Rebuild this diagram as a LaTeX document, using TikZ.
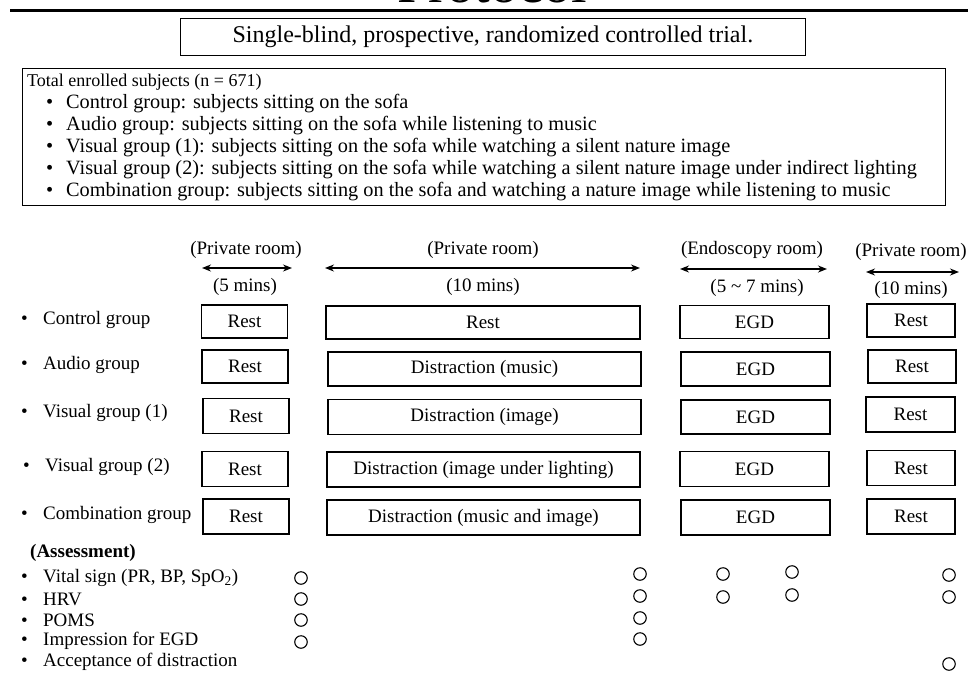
\documentclass[tikz,border=0pt]{standalone}
\usepackage{fontspec}
\setmainfont{Liberation Serif}
\usetikzlibrary{arrows.meta}
\begin{document}
\begin{tikzpicture}[x=1pt,y=-1pt,
  txt/.style={inner sep=0pt, font=\fontsize{19}{22}\selectfont},
  lefttxt/.style={txt, anchor=west},
  stagebox/.style={draw, line width=1.8pt, inner sep=0pt, font=\fontsize{19}{22}\selectfont},
  span/.style={{Stealth[length=9pt,width=7pt]}-{Stealth[length=9pt,width=7pt]}, line width=1.4pt},
  chk/.style={draw, circle, minimum size=12.5pt, inner sep=0pt, line width=1.1pt},
  frame/.style={draw, line width=0.8pt, inner sep=0pt, anchor=north west}
]
\useasboundingbox (0,0) rectangle (968,680);

% title (cut off at the top)
\node[inner sep=0pt, anchor=base, font=\fontsize{56}{60}\selectfont] (title) at (492,2) {Protocol};
\coordinate (ruleL) at (10,10.5);
\coordinate (ruleR) at (968,10.5);
\draw[line width=3.4pt] (ruleL) -- (ruleR);

% design box
\node[frame, minimum width=625pt, minimum height=37pt] (design) at (180,18) {};
\node[txt, font=\fontsize{24}{28}\selectfont] (designtxt) at ([yshift=0.5pt]design.center) {Single-blind, prospective, randomized controlled trial.};

% enrolled box
\node[frame, minimum width=923pt, minimum height=137pt] (enrol) at (22,68) {};
\node[txt, anchor=north west, align=left, font=\fontsize{20.3}{22}\selectfont] (enroltxt) at (27,73.5) {%
{\fontsize{18}{22}\selectfont Total enrolled subjects (n = 671)}\\
\hspace{19pt}\makebox[20pt][l]{\textbullet}Control group: subjects sitting on the sofa\\
\hspace{19pt}\makebox[20pt][l]{\textbullet}Audio group: subjects sitting on the sofa while listening to music\\
\hspace{19pt}\makebox[20pt][l]{\textbullet}Visual group (1): subjects sitting on the sofa while watching a silent nature image\\
\hspace{19pt}\makebox[20pt][l]{\textbullet}Visual group (2): subjects sitting on the sofa while watching a silent nature image under indirect lighting\\
\hspace{19pt}\makebox[20pt][l]{\textbullet}Combination group: subjects sitting on the sofa and watching a nature image while listening to music};

% column headers
\node[txt] (h1) at (246,250) {(Private room)};
\coordinate (a1l) at (202,268); \coordinate (a1r) at (292,268);
\draw[span] (a1l) -- (a1r);
\node[txt] (d1) at (245,287) {(5 mins)};

\node[txt] (h2) at (483,250) {(Private room)};
\coordinate (a2l) at (325,268); \coordinate (a2r) at (640,268);
\draw[span] (a2l) -- (a2r);
\node[txt] (d2) at (483,287) {(10 mins)};

\node[txt] (h3) at (752,250) {(Endoscopy room)};
\coordinate (a3l) at (680,269); \coordinate (a3r) at (827,269);
\draw[span] (a3l) -- (a3r);
\node[txt] (d3) at (757,288) {(5 \textasciitilde\ 7 mins)};

\node[txt] (h4) at (911,252) {(Private room)};
\coordinate (a4l) at (866,272); \coordinate (a4r) at (959,272);
\draw[span] (a4l) -- (a4r);
\node[txt] (d4) at (911,290) {(10 mins)};

% group labels
\node[lefttxt] (g1) at (21,320) {\makebox[22pt][l]{\textbullet}Control group};
\node[lefttxt] (g2) at (21,365) {\makebox[22pt][l]{\textbullet}Audio group};
\node[lefttxt] (g3) at (21,413) {\makebox[22pt][l]{\textbullet}Visual group (1)};
\node[lefttxt] (g4) at (23,467) {\makebox[22pt][l]{\textbullet}Visual group (2)};
\node[lefttxt] (g5) at (21,515) {\makebox[22pt][l]{\textbullet}Combination group};

% row 1
\node[stagebox, minimum width=86pt, minimum height=33pt] (r1a) at (244.5,321.5) {Rest};
\node[stagebox, minimum width=314pt, minimum height=33pt] (r1b) at (483,322.5) {Rest};
\node[stagebox, minimum width=149pt, minimum height=33pt] (r1c) at (754.5,322) {EGD};
\node[stagebox, minimum width=88pt, minimum height=33pt] (r1d) at (911,320.5) {Rest};
% row 2
\node[stagebox, minimum width=86pt, minimum height=33pt] (r2a) at (245,366.5) {Rest};
\node[stagebox, minimum width=313pt, minimum height=34pt] (r2b) at (484.5,369) {Distraction (music)};
\node[stagebox, minimum width=149pt, minimum height=34pt] (r2c) at (755.5,369) {EGD};
\node[stagebox, minimum width=88pt, minimum height=33pt] (r2d) at (912,366.5) {Rest};
% row 3
\node[stagebox, minimum width=86pt, minimum height=35pt] (r3a) at (246,416) {Rest};
\node[stagebox, minimum width=313pt, minimum height=35pt] (r3b) at (484.5,417) {Distraction (image)};
\node[stagebox, minimum width=149pt, minimum height=34pt] (r3c) at (755.5,417) {EGD};
\node[stagebox, minimum width=89pt, minimum height=35pt] (r3d) at (910.5,414.5) {Rest};
% row 4
\node[stagebox, minimum width=86pt, minimum height=35pt] (r4a) at (245,469) {Rest};
\node[stagebox, minimum width=313pt, minimum height=35pt] (r4b) at (483.5,469.5) {Distraction (image under lighting)};
\node[stagebox, minimum width=149pt, minimum height=35pt] (r4c) at (754.5,469) {EGD};
\node[stagebox, minimum width=88pt, minimum height=35pt] (r4d) at (911,468) {Rest};
% row 5
\node[stagebox, minimum width=86pt, minimum height=35pt] (r5a) at (246,516.5) {Rest};
\node[stagebox, minimum width=313pt, minimum height=35pt] (r5b) at (483.5,517.5) {Distraction (music and image)};
\node[stagebox, minimum width=149pt, minimum height=35pt] (r5c) at (755.5,517.5) {EGD};
\node[stagebox, minimum width=88pt, minimum height=35pt] (r5d) at (911,516.5) {Rest};

% assessment
\node[lefttxt, font=\fontsize{19}{22}\selectfont\bfseries] (ass) at (30,553) {(Assessment)};
\node[lefttxt] (m1) at (21,578) {\makebox[22pt][l]{\textbullet}Vital sign (PR, BP, SpO\textsubscript{2})};
\node[lefttxt] (m2) at (21,599) {\makebox[22pt][l]{\textbullet}HRV};
\node[lefttxt] (m3) at (21,620) {\makebox[22pt][l]{\textbullet}POMS};
\node[lefttxt] (m4) at (21,641) {\makebox[22pt][l]{\textbullet}Impression for EGD};
\node[lefttxt] (m5) at (21,662) {\makebox[22pt][l]{\textbullet}Acceptance of distraction};

\node[chk] (c11) at (301,578) {};
\node[chk] (c12) at (301,599) {};
\node[chk] (c13) at (301,620) {};
\node[chk] (c14) at (301,642) {};

\node[chk] (c21) at (640,574) {};
\node[chk] (c22) at (640,596) {};
\node[chk] (c23) at (640,618) {};
\node[chk] (c24) at (640,639) {};

\node[chk] (c31) at (723,574) {};
\node[chk] (c32) at (723,597) {};

\node[chk] (c41) at (792,572) {};
\node[chk] (c42) at (792,595) {};

\node[chk] (c51) at (949,575) {};
\node[chk] (c52) at (949,597) {};
\node[chk] (c55) at (949,664) {};
\end{tikzpicture}
\end{document}
